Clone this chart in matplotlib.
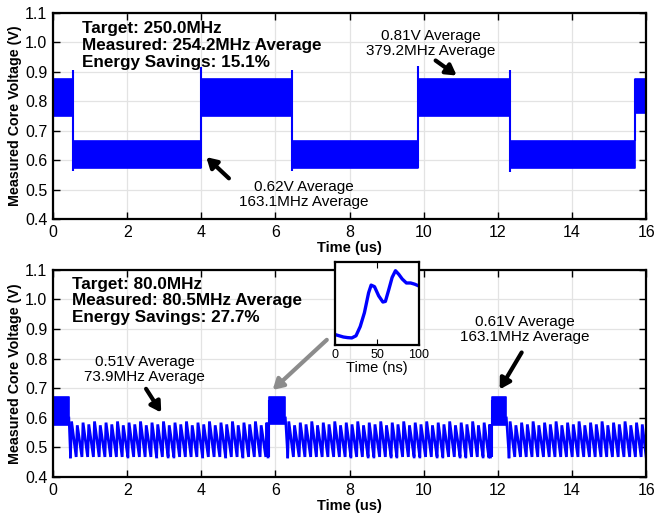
import numpy as np
import matplotlib
matplotlib.use("Agg")
import matplotlib.pyplot as plt

plt.rcParams['font.family'] = ['Liberation Sans', 'DejaVu Sans']

BLUE = '#0000ff'

# ---------------- data ----------------
# Top panel: noisy square wave, segments of band (low, high envelope)
top_seg_start = [0.0, 0.54, 3.99, 6.44, 9.84, 12.32, 15.70]
top_seg_end = [0.54, 3.99, 6.44, 9.84, 12.32, 15.70, 16.0]
top_seg_low = [0.75, 0.575, 0.75, 0.575, 0.75, 0.575, 0.76]
top_seg_high = [0.875, 0.665, 0.875, 0.665, 0.875, 0.665, 0.875]
top_spike_t = [0.54, 3.99, 6.44, 9.84, 12.32]
top_spike_v = [0.905, 0.915, 0.905, 0.92, 0.905]
top_dip_v = [0.565, 0.575, 0.565, 0.575, 0.56]

# Bottom panel: high-frequency bursts and sawtooth ripple regions
bot_high_start = [0.0, 5.83, 11.83]
bot_high_end = [0.43, 6.27, 12.23]
bot_high_low = [0.575, 0.58, 0.575]
bot_high_high = [0.67, 0.67, 0.67]
bot_saw_start = [0.47, 6.33, 12.30]
bot_saw_end = [5.80, 11.80, 16.0]
bot_saw_low = 0.468
bot_saw_peak = [0.588, 0.575, 0.584, 0.578]
bot_saw_period = 0.155

# Inset: step response (ns, V)
inset_t = [0, 5, 10, 15, 20, 25, 30, 35, 40, 43, 47, 52, 57, 60, 64, 68, 72, 76, 80, 85, 90, 95, 100]
inset_v = [0.504, 0.500, 0.496, 0.494, 0.493, 0.500, 0.530, 0.575, 0.640, 0.665, 0.660, 0.630, 0.610, 0.612, 0.650, 0.690, 0.712, 0.700, 0.685, 0.672, 0.672, 0.668, 0.662]

xticks = [0, 2, 4, 6, 8, 10, 12, 14, 16]
yticks = [0.4, 0.5, 0.6, 0.7, 0.8, 0.9, 1.0, 1.1]

fig = plt.figure(figsize=(6.56, 5.18), dpi=100)
ax1 = fig.add_axes([0.0808, 0.577, 0.9042, 0.398])
ax2 = fig.add_axes([0.0808, 0.079, 0.9042, 0.400])


def style(ax):
    ax.set_xlim(0, 16)
    ax.set_ylim(0.4, 1.1)
    ax.set_xticks(xticks)
    ax.set_yticks(yticks)
    ax.set_xticklabels([str(v) for v in xticks])
    ax.set_yticklabels(['%.1f' % v for v in yticks])
    ax.grid(True, color='#e3e3e3', lw=0.9)
    ax.set_axisbelow(True)
    ax.tick_params(direction='in', top=True, right=True, length=5, width=1.0,
                   labelsize=11.5, pad=4)
    for s in ax.spines.values():
        s.set_linewidth(1.6)
    ax.set_xlabel('Time (us)', fontsize=10.5, fontweight='bold', labelpad=1)
    ax.set_ylabel('Measured Core Voltage (V)', fontsize=10.3, fontweight='bold', labelpad=2)


ARROW = '-|>,head_length=0.6,head_width=0.35'

# ---- top panel ----
for s, e, lo, hi in zip(top_seg_start, top_seg_end, top_seg_low, top_seg_high):
    ax1.fill_between([s, e], [lo, lo], [hi, hi], color=BLUE, lw=1.2, edgecolor=BLUE)
for t, v, d in zip(top_spike_t, top_spike_v, top_dip_v):
    ax1.vlines(t, d, v, color=BLUE, lw=1.5)
ax1.vlines(top_seg_start[-1], top_seg_high[-2], top_seg_high[-1], color=BLUE, lw=1.5)
style(ax1)

ax1.text(0.78, 0.99, 'Target: 250.0MHz\nMeasured: 254.2MHz Average\nEnergy Savings: 15.1%',
         fontsize=12.3, fontweight='bold', va='center', ha='left', linespacing=1.16, zorder=5)
ax1.text(6.77, 0.483, '0.62V Average\n163.1MHz Average',
         ha='center', va='center', fontsize=11, linespacing=1.05)
ax1.annotate('', xy=(4.08, 0.617), xytext=(4.80, 0.532),
             arrowprops=dict(arrowstyle=ARROW, color='black', lw=3))
ax1.text(10.2, 0.996, '0.81V Average\n379.2MHz Average', ha='center', va='center',
         fontsize=11, linespacing=1.05)
ax1.annotate('', xy=(10.95, 0.882), xytext=(10.26, 0.944),
             arrowprops=dict(arrowstyle=ARROW, color='black', lw=3))

# ---- bottom panel ----
for s, e, lo, hi in zip(bot_high_start, bot_high_end, bot_high_low, bot_high_high):
    ax2.fill_between([s, e], [lo, lo], [hi, hi], color=BLUE, lw=1.2, edgecolor=BLUE)
for s, e in zip(bot_saw_start, bot_saw_end):
    t0 = np.arange(s, e - 0.03, bot_saw_period)
    xs, ys = [], []
    for i, t in enumerate(t0):
        xs += [t, t + 0.03, min(t + bot_saw_period, e)]
        ys += [bot_saw_low, bot_saw_peak[i % len(bot_saw_peak)], bot_saw_low]
    ax2.plot(xs, ys, color=BLUE, lw=2.0, solid_joinstyle='miter')
# transitions
for hs in bot_high_start[1:]:
    ax2.vlines(hs, bot_saw_low, 0.66, color=BLUE, lw=1.5)
for he, ss in zip(bot_high_end, bot_saw_start):
    ax2.plot([he, ss], [0.6, bot_saw_low], color=BLUE, lw=1.8)
style(ax2)

ax2.text(0.5, 0.995, 'Target: 80.0MHz\nMeasured: 80.5MHz Average\nEnergy Savings: 27.7%',
         fontsize=12.3, fontweight='bold', va='center', ha='left', linespacing=1.16, zorder=5)
ax2.text(2.47, 0.764, '0.51V Average\n73.9MHz Average', ha='center', va='center',
         fontsize=11, linespacing=1.05)
ax2.annotate('', xy=(2.96, 0.610), xytext=(2.47, 0.706),
             arrowprops=dict(arrowstyle=ARROW, color='black', lw=3))
ax2.text(12.73, 0.898, '0.61V Average\n163.1MHz Average', ha='center', va='center',
         fontsize=11, linespacing=1.05)
ax2.annotate('', xy=(12.01, 0.688), xytext=(12.68, 0.829),
             arrowprops=dict(arrowstyle=ARROW, color='black', lw=3))
ax2.annotate('', xy=(5.87, 0.688), xytext=(7.44, 0.870),
             arrowprops=dict(arrowstyle=ARROW, color='#8c8c8c', lw=3))

# ---- inset ----
axi = fig.add_axes([0.5107, 0.334, 0.128, 0.160])
axi.plot(inset_t, inset_v, color=BLUE, lw=2.4)
axi.set_xlim(0, 100)
axi.set_ylim(0.47, 0.74)
axi.set_xticks([0, 50, 100])
axi.set_xticklabels(['0', '50', '100'])
axi.set_yticks([])
axi.tick_params(direction='in', top=True, length=4, labelsize=9, pad=3)
for s in axi.spines.values():
    s.set_linewidth(1.6)
axi.set_xlabel('Time (ns)', fontsize=10.5, labelpad=0)

fig.savefig('out.png', dpi=100)
